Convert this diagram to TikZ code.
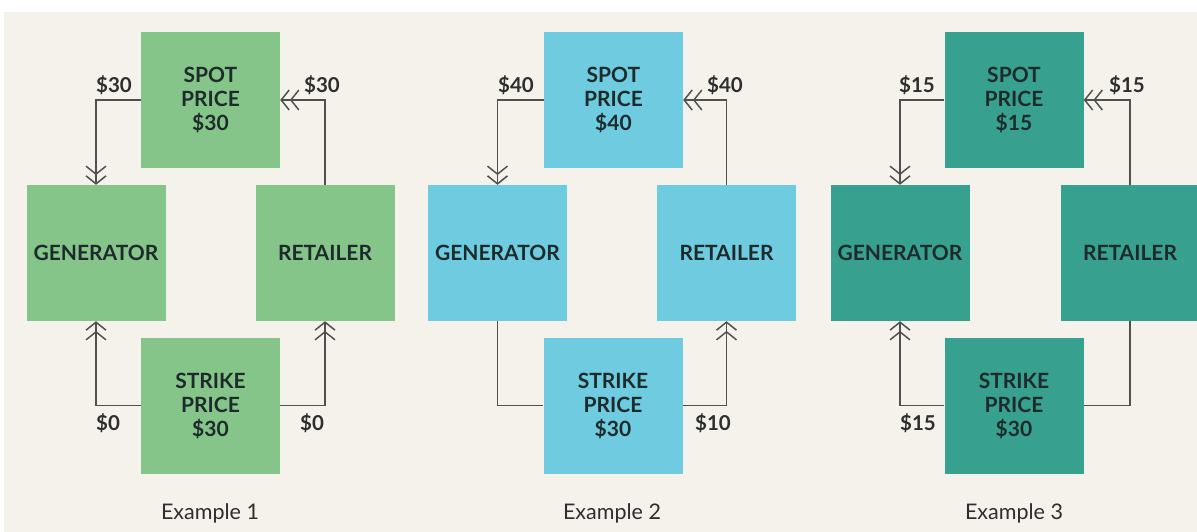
\documentclass[tikz,border=0pt]{standalone}
\usepackage{fontspec}
\setmainfont{Lato}
\usetikzlibrary{arrows.meta}
\definecolor{paper}{HTML}{F5F2EC}
\definecolor{exgreen}{HTML}{86C58A}
\definecolor{exblue}{HTML}{6ECBE0}
\definecolor{exteal}{HTML}{38A08E}
\definecolor{boxtext}{HTML}{1E2B2B}
\definecolor{wire}{HTML}{505050}
\definecolor{labeltext}{HTML}{2E2E2E}

\begin{document}
\begin{tikzpicture}[x=1pt,y=-1pt]
		\tikzstyle{box}=[minimum width=139pt,minimum height=136pt,inner sep=0pt,align=center,text=boxtext,font=\bfseries\fontsize{21}{24}\selectfont]
		\tikzstyle{money}=[text=labeltext,font=\bfseries\fontsize{20.5}{22}\selectfont,inner sep=0pt]
		\tikzstyle{caption}=[text=labeltext,font=\fontsize{21.5}{24}\selectfont,inner sep=0pt]
		\tikzstyle{flow}=[wire,line width=1.3pt,-{Straight Barb[length=8pt,width=20pt,line width=1.5pt,sep=0pt]Straight Barb[length=8pt,width=20pt,line width=1.5pt]}]
		\tikzstyle{plain}=[wire,line width=1.3pt]
		\useasboundingbox (0,0) rectangle (1197,532);
		\fill [white] (0,0) rectangle (1197,532);
		\fill [paper] (4,12) rectangle (1197,532);
		% example 1
		\node [box,fill=exgreen] (spot1) at (210.5,100) {SPOT\\PRICE\\\$30};
		\node [box,fill=exgreen] (gen1) at (96,253) {GENERATOR};
		\node [box,fill=exgreen] (ret1) at (325,253) {RETAILER};
		\node [box,fill=exgreen] (strike1) at (210.5,405.5) {STRIKE\\PRICE\\\$30};
		\draw [flow] (spot1.west) -| (gen1.north);
		\draw [flow] (ret1.north) |- (spot1.east);
		\draw [flow] (strike1.west) -| (gen1.south);
		\draw [flow] (strike1.east) -| (ret1.south);
		\node [money] (pay1a) at (114,85) {\$30};
		\node [money] (pay1b) at (322,85) {\$30};
		\node [money] (pay1c) at (108,423) {\$0};
		\node [money] (pay1d) at (312,423) {\$0};
		\node [caption] (cap1) at (210,513) {Example 1};
		% example 2
		\node [box,fill=exblue] (spot2) at (613.5,100) {SPOT\\PRICE\\\$40};
		\node [box,fill=exblue] (gen2) at (497.5,253) {GENERATOR};
		\node [box,fill=exblue] (ret2) at (726.5,253) {RETAILER};
		\node [box,fill=exblue] (strike2) at (613,405.5) {STRIKE\\PRICE\\\$30};
		\draw [flow] (spot2.west) -| (gen2.north);
		\draw [flow] (ret2.north) |- (spot2.east);
		\draw [plain] (gen2.south) |- (strike2.west);
		\draw [flow] (strike2.east) -| (ret2.south);
		\node [money] (pay2a) at (516,85) {\$40};
		\node [money] (pay2b) at (725,85) {\$40};
		\node [money] (pay2d) at (713,423) {\$10};
		\node [caption] (cap2) at (612,513) {Example 2};
		% example 3
		\node [box,fill=exteal] (spot3) at (1014,100) {SPOT\\PRICE\\\$15};
		\node [box,fill=exteal] (gen3) at (900,253) {GENERATOR};
		\node [box,fill=exteal] (ret3) at (1130,253) {RETAILER};
		\node [box,fill=exteal] (strike3) at (1014,405.5) {STRIKE\\PRICE\\\$30};
		\draw [flow] (spot3.west) -| (gen3.north);
		\draw [flow] (ret3.north) |- (spot3.east);
		\draw [flow] (strike3.west) -| (gen3.south);
		\draw [plain] (ret3.south) |- (strike3.east);
		\node [money] (pay3a) at (917,85) {\$15};
		\node [money] (pay3b) at (1127,85) {\$15};
		\node [money] (pay3c) at (918,423) {\$15};
		\node [caption] (cap3) at (1014,513) {Example 3};
	\end{tikzpicture}
\end{document}
